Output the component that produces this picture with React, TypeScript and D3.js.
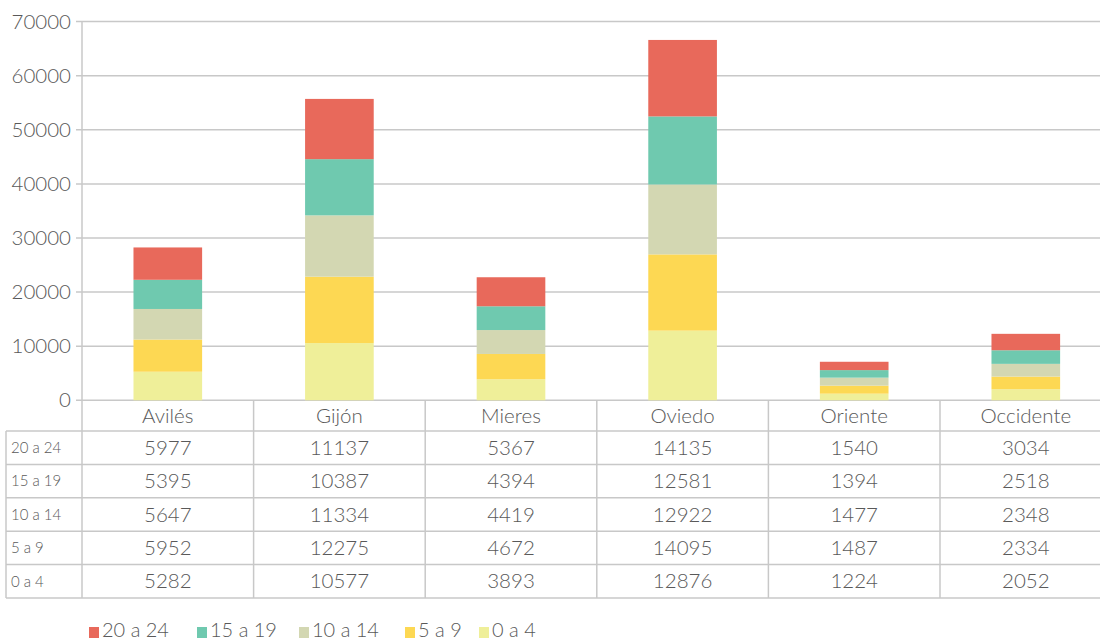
import React from "react";
import * as d3 from "d3";

const categories = ["Avilés", "Gijón", "Mieres", "Oviedo", "Oriente", "Occidente"];
const seriesNames = ["20 a 24", "15 a 19", "10 a 14", "5 a 9", "0 a 4"];
const s20a24 = [5977, 11137, 5367, 14135, 1540, 3034];
const s15a19 = [5395, 10387, 4394, 12581, 1394, 2518];
const s10a14 = [5647, 11334, 4419, 12922, 1477, 2348];
const s5a9 = [5952, 12275, 4672, 14095, 1487, 2334];
const s0a4 = [5282, 10577, 3893, 12876, 1224, 2052];
const yTicks = [0, 10000, 20000, 30000, 40000, 50000, 60000, 70000];
const colors = ["#E8695B", "#6FC9AF", "#D3D7B2", "#FDD853", "#EFEF99"];

const seriesValues = [s20a24, s15a19, s10a14, s5a9, s0a4];

export default function App() {
  const W = 1100, H = 641;
  const left = 82;
  const colW = 171.6;
  const x = d3.scaleBand<string>().domain(categories).range([left, left + colW * categories.length]).padding(0);
  const y = d3.scaleLinear().domain([0, 70000]).range([400.3, 21.6]);
  const barW = x.bandwidth() * 0.4;

  // stacking bottom -> top: 0 a 4, 5 a 9, 10 a 14, 15 a 19, 20 a 24
  const rows = categories.map((c, i) => {
    const o: any = { cat: c };
    seriesNames.forEach((s, k) => (o[s] = seriesValues[k][i]));
    return o;
  });
  const stack = d3.stack<any>().keys([...seriesNames].reverse());
  const stacked = stack(rows);

  const font = "Lato, 'Open Sans', sans-serif";
  const textColor = "#595959";
  const lineColor = "#C8C8C8";

  const headerTop = 400.3;
  const headerBottom = 431;
  const rowH = 33.4;
  const tableBottom = headerBottom + rowH * 5;
  const tableLeft = 6;
  const tableRight = 1100;

  return (
    <svg width={W} height={H} style={{ position: "absolute", left: 0, top: 0 }}>
      <rect width={W} height={H} fill="#fff" />
      {/* gridlines */}
      {yTicks.map((t) => (
        <g key={t}>
          <line x1={76} x2={tableRight} y1={y(t)} y2={y(t)} stroke={lineColor} strokeWidth={1.5} />
          <text x={71} y={y(t)} dy="0.35em" textAnchor="end" fontFamily={font} fontWeight={300} fontSize={20.5} fill={textColor}>
            {t}
          </text>
        </g>
      ))}
      <line x1={left} x2={left} y1={y(70000)} y2={tableBottom} stroke={lineColor} strokeWidth={1.5} />
      {/* bars */}
      {stacked.map((layer) => {
        const k = seriesNames.indexOf(layer.key as string);
        return (
          <g key={layer.key as string}>
            {layer.map((d, i) => (
              <rect
                key={i}
                x={(x(categories[i]) as number) + x.bandwidth() / 2 - barW / 2}
                width={barW}
                y={y(d[1])}
                height={y(d[0]) - y(d[1])}
                fill={colors[k]}
              />
            ))}
          </g>
        );
      })}
      {/* table lines */}
      {categories.map((c) => (
        <line key={c} x1={(x(c) as number) + colW} x2={(x(c) as number) + colW} y1={headerTop} y2={tableBottom} stroke={lineColor} strokeWidth={1.5} />
      ))}
      {[0, 1, 2, 3, 4, 5].map((r) => (
        <line key={r} x1={tableLeft} x2={tableRight} y1={headerBottom + r * rowH} y2={headerBottom + r * rowH} stroke={lineColor} strokeWidth={1.5} />
      ))}
      <line x1={tableLeft} x2={tableLeft} y1={headerBottom} y2={tableBottom} stroke={lineColor} strokeWidth={1.5} />
      {/* header labels */}
      {categories.map((c) => (
        <text key={c} x={(x(c) as number) + colW / 2} y={(headerTop + headerBottom) / 2} dy="0.35em" textAnchor="middle" fontFamily={font} fontWeight={300} fontSize={20.5} fill={textColor}>
          {c}
        </text>
      ))}
      {/* rows */}
      {seriesNames.map((s, r) => (
        <g key={s}>
          <text x={11} y={headerBottom + r * rowH + rowH / 2} dy="0.35em" fontFamily={font} fontWeight={300} fontSize={15} fill={textColor}>
            {s}
          </text>
          {categories.map((c, i) => (
            <text key={c} x={(x(c) as number) + colW / 2} y={headerBottom + r * rowH + rowH / 2} dy="0.35em" textAnchor="middle" fontFamily={font} fontWeight={300} fontSize={20.5} fill={textColor}>
              {seriesValues[r][i]}
            </text>
          ))}
        </g>
      ))}
      {/* legend */}
      {(() => {
        const xs = [89, 197, 299, 405, 479];
        return seriesNames.map((s, k) => (
          <g key={s}>
            <rect x={xs[k]} y={627} width={10} height={11} fill={colors[k]} />
            <text x={xs[k] + 13} y={630} dy="0.35em" fontFamily={font} fontWeight={300} fontSize={20} fill={textColor}>
              {s}
            </text>
          </g>
        ));
      })()}
    </svg>
  );
}
